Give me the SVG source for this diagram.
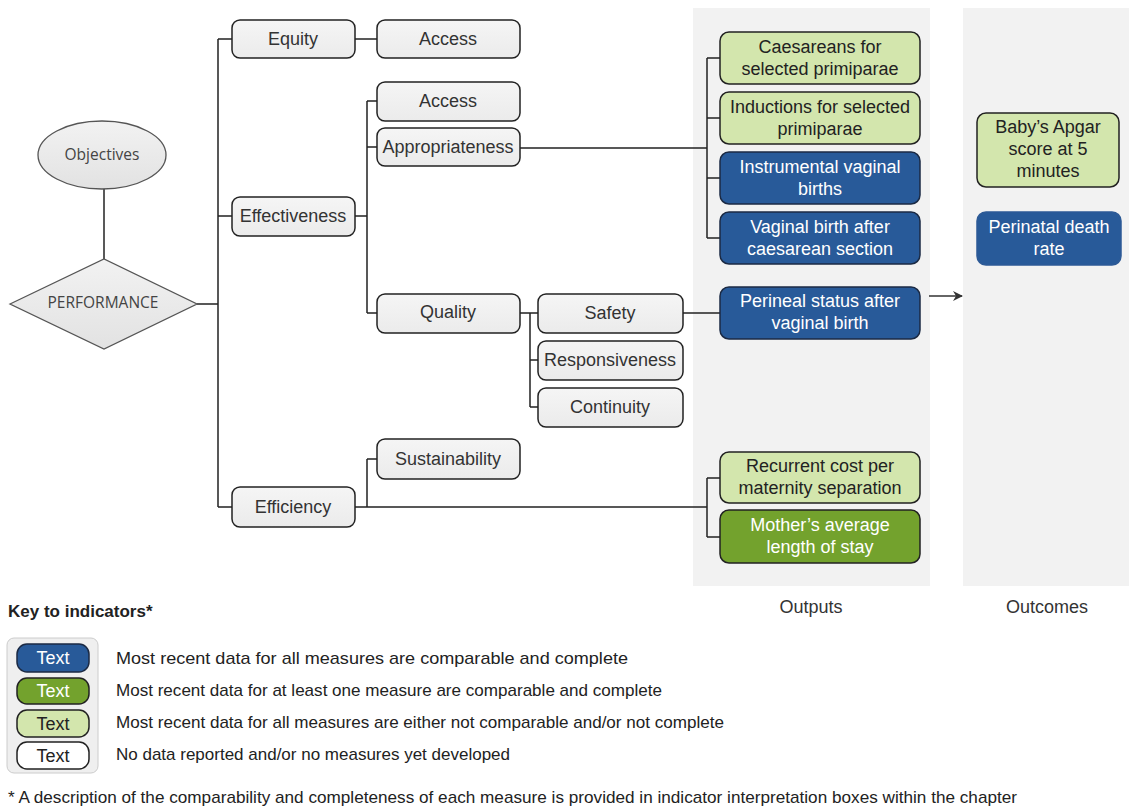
<svg xmlns="http://www.w3.org/2000/svg" width="1129" height="807" viewBox="0 0 1129 807">
<style>
.t{font-family:"Liberation Sans",Arial,sans-serif;font-size:18px;fill:#333;text-anchor:middle}
.w{fill:#fff}
.k{fill:#222}
.g{fill:url(#gg);stroke:#222;stroke-width:1.5}
.b{fill:#285a99;stroke:#1b2a44;stroke-width:1.5}
.dg{fill:#73a22d;stroke:#222;stroke-width:1.5}
.lg{fill:#d3e6ad;stroke:#222;stroke-width:1.5}
.c{fill:none;stroke:#222;stroke-width:1.5}
.s{font-family:"Open Sans","Noto Sans",sans-serif;font-size:15.5px;fill:#444;text-anchor:middle}
.l{font-family:"Liberation Sans",Arial,sans-serif;font-size:17px;fill:#222}
</style>
<defs>
<linearGradient id="gg" x1="0" y1="0" x2="0" y2="1"><stop offset="0" stop-color="#f5f5f5"/><stop offset="1" stop-color="#ebebeb"/></linearGradient>
<linearGradient id="sg" x1="0" y1="0" x2="0" y2="1"><stop offset="0" stop-color="#f2f2f2"/><stop offset="1" stop-color="#e2e2e2"/></linearGradient>
<marker id="ah" markerWidth="10" markerHeight="10" refX="9" refY="5" orient="auto" markerUnits="userSpaceOnUse"><path d="M0,0 L10,5 L0,10 L3,5 Z" fill="#333"/></marker>
</defs>
<rect width="1129" height="807" fill="#fff"/>
<g id="panels">
<rect x="693" y="8" width="237" height="578" fill="#f2f2f2"/>
<rect x="963" y="8" width="166" height="578" fill="#f2f2f2"/>
<text class="t" x="811" y="613">Outputs</text>
<text class="t" x="1047" y="613">Outcomes</text>
</g>
<g id="connectors">
<path class="c" d="M104,189 V259"/>
<path class="c" d="M197,304 H218 M218,39 V507 M218,39 H232 M218,216 H232 M218,507 H232"/>
<path class="c" d="M355,39 H377"/>
<path class="c" d="M355,216 H367 M367,101 V313 M367,101 H377 M367,147 H377 M367,313 H377"/>
<path class="c" d="M520,148 H707 M707,58 V238 M707,58 H720 M707,118 H720 M707,178 H720 M707,238 H720"/>
<path class="c" d="M520,313 H538 M530,313 V407 M530,360 H538 M530,407 H538"/>
<path class="c" d="M683,313 H720"/>
<path class="c" d="M355,507 H707 M367,459 V507 M367,459 H377 M707,478 V537 M707,478 H720 M707,537 H720"/>
<path d="M929,296 H962" stroke="#333" stroke-width="1.5" marker-end="url(#ah)"/>
</g>
<g id="objectives"><ellipse cx="102" cy="155" rx="64" ry="34" fill="url(#sg)" stroke="#555" stroke-width="1.3"/><text class="s" x="102" y="160">Objectives</text></g>
<g id="performance"><polygon points="10,304 104,259 197,304 104,349" fill="url(#sg)" stroke="#555" stroke-width="1.3"/><text class="s" x="103" y="308">PERFORMANCE</text></g>
<g id="equity"><rect class="g" x="232" y="20" width="123" height="38" rx="8"/><text class="t" x="293" y="45">Equity</text></g>
<g id="effectiveness"><rect class="g" x="232" y="197" width="123" height="39" rx="8"/><text class="t" x="293" y="222">Effectiveness</text></g>
<g id="efficiency"><rect class="g" x="232" y="487" width="123" height="40" rx="8"/><text class="t" x="293" y="513">Efficiency</text></g>
<g id="access1"><rect class="g" x="377" y="20" width="143" height="38" rx="8"/><text class="t" x="448" y="45">Access</text></g>
<g id="access2"><rect class="g" x="377" y="82" width="143" height="39" rx="8"/><text class="t" x="448" y="107">Access</text></g>
<g id="appropriateness"><rect class="g" x="377" y="128" width="143" height="38" rx="8"/><text class="t" x="448" y="153">Appropriateness</text></g>
<g id="quality"><rect class="g" x="377" y="294" width="143" height="39" rx="8"/><text class="t" x="448" y="318">Quality</text></g>
<g id="sustainability"><rect class="g" x="377" y="439" width="143" height="40" rx="8"/><text class="t" x="448" y="465">Sustainability</text></g>
<g id="safety"><rect class="g" x="538" y="294" width="145" height="39" rx="8"/><text class="t" x="610" y="319">Safety</text></g>
<g id="responsiveness"><rect class="g" x="538" y="341" width="145" height="39" rx="8"/><text class="t" x="610" y="366">Responsiveness</text></g>
<g id="continuity"><rect class="g" x="538" y="388" width="145" height="39" rx="8"/><text class="t" x="610" y="413">Continuity</text></g>
<g id="caesareans"><rect class="lg" x="720" y="32" width="200" height="52" rx="9"/><text class="t k" x="820" y="53">Caesareans for</text><text class="t k" x="820" y="75">selected primiparae</text></g>
<g id="inductions"><rect class="lg" x="720" y="92" width="200" height="52" rx="9"/><text class="t k" x="820" y="113">Inductions for selected</text><text class="t k" x="820" y="135">primiparae</text></g>
<g id="instrumental"><rect class="b" x="720" y="152" width="200" height="52" rx="9"/><text class="t w" x="820" y="173">Instrumental vaginal</text><text class="t w" x="820" y="195">births</text></g>
<g id="vbac"><rect class="b" x="720" y="212" width="200" height="52" rx="9"/><text class="t w" x="820" y="233">Vaginal birth after</text><text class="t w" x="820" y="255">caesarean section</text></g>
<g id="perineal"><rect class="b" x="720" y="287" width="200" height="52" rx="9"/><text class="t w" x="820" y="307">Perineal status after</text><text class="t w" x="820" y="329">vaginal birth</text></g>
<g id="recurrent"><rect class="lg" x="720" y="452" width="200" height="51" rx="9"/><text class="t k" x="820" y="472">Recurrent cost per</text><text class="t k" x="820" y="494">maternity separation</text></g>
<g id="mothers"><rect class="dg" x="720" y="510" width="200" height="53" rx="9"/><text class="t w" x="820" y="531">Mother’s average</text><text class="t w" x="820" y="553">length of stay</text></g>
<g id="apgar"><rect class="lg" x="977" y="113" width="142" height="74" rx="9"/><text class="t k" x="1048" y="133">Baby’s Apgar</text><text class="t k" x="1048" y="155">score at 5</text><text class="t k" x="1048" y="177">minutes</text></g>
<g id="perinatal"><rect x="977" y="212" width="144" height="53" rx="9" fill="#285a99" stroke="#2d5a96" stroke-width="1.5"/><text class="t w" x="1049" y="233">Perinatal death</text><text class="t w" x="1049" y="255">rate</text></g>
<g id="legend">
<text x="8" y="617" style="font-family:'Liberation Sans',Arial,sans-serif;font-size:17px;font-weight:bold;fill:#222">Key to indicators*</text>
<rect x="7" y="638" width="91" height="135" rx="7" fill="#efefef" stroke="#ccc" stroke-width="1"/>
<rect class="b" x="17" y="644" width="72" height="28" rx="10"/><text class="t w" x="53" y="664">Text</text>
<rect class="dg" x="17" y="678" width="72" height="26" rx="10"/><text class="t w" x="53" y="697">Text</text>
<rect class="lg" x="17" y="710" width="72" height="27" rx="10"/><text class="t k" x="53" y="730">Text</text>
<rect x="17" y="742" width="72" height="27" rx="10" fill="#fff" stroke="#222" stroke-width="1.5"/><text class="t k" x="53" y="762">Text</text>
<text class="l" x="116" y="664" textLength="512" lengthAdjust="spacingAndGlyphs">Most recent data for all measures are comparable and complete</text>
<text class="l" x="116" y="696" textLength="546" lengthAdjust="spacingAndGlyphs">Most recent data for at least one measure are comparable and complete</text>
<text class="l" x="116" y="728" textLength="608" lengthAdjust="spacingAndGlyphs">Most recent data for all measures are either not comparable and/or not complete</text>
<text class="l" x="116" y="760" textLength="394" lengthAdjust="spacingAndGlyphs">No data reported and/or no measures yet developed</text>
<text class="l" x="8" y="803" textLength="1009" lengthAdjust="spacingAndGlyphs">* A description of the comparability and completeness of each measure is provided in indicator interpretation boxes within the chapter</text>
</g>
</svg>
